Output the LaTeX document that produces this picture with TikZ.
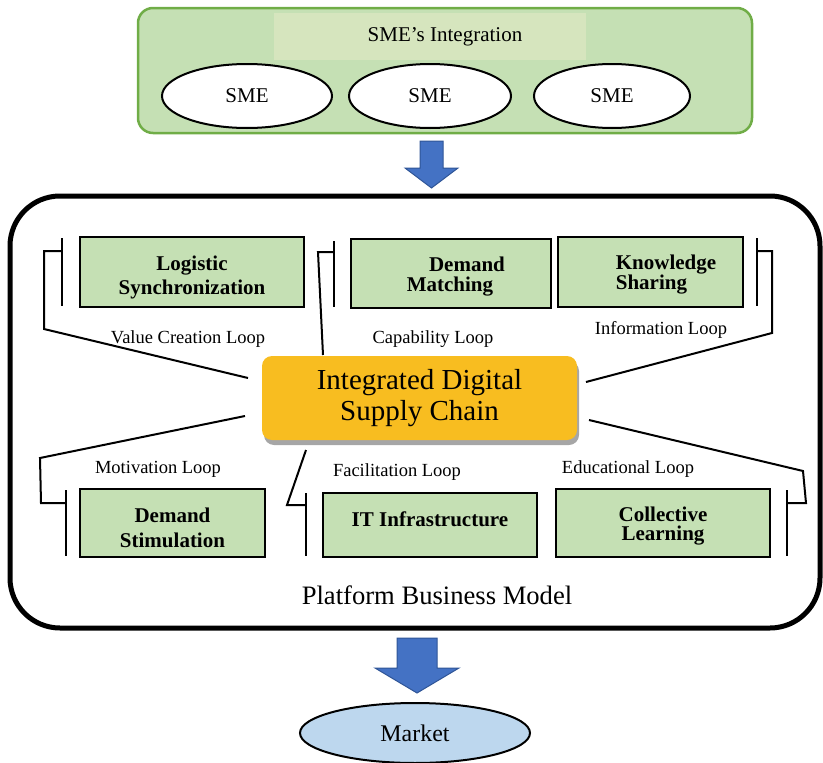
\documentclass[tikz,border=0pt]{standalone}
\usepackage{fontspec}
\setmainfont{Liberation Serif}
\usetikzlibrary{shapes.geometric, shadows, positioning, calc}

\definecolor{smegreen}{RGB}{197,224,180}
\definecolor{smeedge}{RGB}{112,173,71}
\definecolor{bandgreen}{RGB}{214,229,190}
\definecolor{hubyellow}{RGB}{248,189,32}
\definecolor{arrowblue}{RGB}{68,114,196}
\definecolor{arrowedge}{RGB}{47,85,151}
\definecolor{marketblue}{RGB}{189,215,238}

\tikzset{
  loopbox/.style={draw=black, line width=2.5pt, fill=smegreen, inner sep=0pt},
  boxtext/.style={align=center, inner sep=0pt, font=\fontsize{21}{22}\selectfont\bfseries},
  smenode/.style={ellipse, draw=black, line width=2pt, fill=white, inner sep=0pt,
    font=\fontsize{21}{24}\selectfont},
  looplabel/.style={inner sep=0pt, font=\fontsize{18.5}{20}\selectfont},
  link/.style={line width=2pt, line join=miter},
  blockarrow/.style={fill=arrowblue, draw=arrowedge, line width=1pt},
}

\begin{document}
\begin{tikzpicture}[x=1pt, y=-1pt]
  \useasboundingbox (0,0) rectangle (823,763);

  % SME integration block
  \node[draw=smeedge, line width=2.5pt, fill=smegreen, rounded corners=15pt,
    minimum width=614pt, minimum height=125pt] (smes) at (445,70.5) {};
  \node[fill=bandgreen, minimum width=312pt, minimum height=47pt] (band) at (430,36.5) {};
  \node[inner sep=0pt, font=\fontsize{21}{24}\selectfont] (smetitle) at (445,37) {SME's Integration};
  \node[smenode, minimum width=170pt, minimum height=64pt] (sme1) at (247,96) {SME};
  \node[smenode, minimum width=162pt, minimum height=64pt] (sme2) at (430,96) {SME};
  \node[smenode, minimum width=156pt, minimum height=64pt] (sme3) at (612,96) {SME};

  \draw[blockarrow] (420,141) -- (443,141) -- (443,168) -- (458,168) -- (431.5,188)
    -- (405,168) -- (420,168) -- cycle;

  % platform frame
  \node[draw=black, line width=5pt, rounded corners=50pt,
    minimum width=810pt, minimum height=432pt] (platform) at (415,412) {};
  \node[inner sep=0pt, font=\fontsize{26.6}{30}\selectfont] (pbm) at (437,595) {Platform Business Model};

  % hub
  \node[fill=hubyellow, rounded corners=10pt, minimum width=315pt, minimum height=84pt,
    align=center, inner sep=0pt, font=\fontsize{29}{31}\selectfont,
    drop shadow={shadow xshift=2pt, shadow yshift=-5pt, fill=black!35, opacity=1}]
    (hub) at (419.5,398) {Integrated Digital\\Supply Chain};

  % loop boxes
  \node[loopbox, minimum width=224pt, minimum height=70pt] (ls) at (192,272) {};
  \node[loopbox, minimum width=200pt, minimum height=69pt] (dm) at (451,273.5) {};
  \node[loopbox, minimum width=185pt, minimum height=70pt] (ks) at (650.5,272) {};
  \node[loopbox, minimum width=185pt, minimum height=68pt] (ds) at (172.5,523) {};
  \node[loopbox, minimum width=214pt, minimum height=64pt] (it) at (430,525) {};
  \node[loopbox, minimum width=214pt, minimum height=68pt] (cl) at (663,523) {};

  \node[boxtext, font=\fontsize{21}{24}\selectfont\bfseries] (lstext) at (192,277) {Logistic\\Synchronization};
  \node[boxtext, font=\fontsize{21}{20}\selectfont\bfseries] (dmtext) at (457,277)
    {\hspace*{20pt}Demand\\Matching\hspace*{14pt}};
  \node[boxtext, align=left, font=\fontsize{21}{20}\selectfont\bfseries] (kstext) at (666,275)
    {Knowledge\\Sharing};
  \node[boxtext, font=\fontsize{21}{25}\selectfont\bfseries] (dstext) at (172.5,528) {Demand\\Stimulation};
  \node[boxtext] (ittext) at (430,519) {IT Infrastructure};
  \node[boxtext, font=\fontsize{21}{19}\selectfont\bfseries] (cltext) at (663,526) {Collective\\Learning};

  % loop labels
  \node[looplabel] (vcl) at (188,339) {Value Creation Loop};
  \node[looplabel] (cpl) at (433,339) {Capability Loop};
  \node[looplabel] (ifl) at (661,330) {Information Loop};
  \node[looplabel] (mvl) at (158,469) {Motivation Loop};
  \node[looplabel] (fcl) at (397,472) {Facilitation Loop};
  \node[looplabel] (edl) at (628,469) {Educational Loop};

  % brackets and links to the hub
  \coordinate (lsa) at (62,238);   \coordinate (lsb) at (62,306);
  \coordinate (lst) at (62,251);   \coordinate (lsh) at (248,378);
  \draw[link] (lsa) -- (lsb);
  \draw[link] (lst) -- (44,251) -- (44,329) -- (lsh);

  \coordinate (dma) at (334,241);  \coordinate (dmb) at (334,307);
  \coordinate (dmt) at (334,252);  \coordinate (dmh) at (323,355);
  \draw[link] (dma) -- (dmb);
  \draw[link] (dmt) -- (318,252) -- (dmh);

  \coordinate (ksa) at (757,238);  \coordinate (ksb) at (757,306);
  \coordinate (kst) at (757,251);  \coordinate (ksh) at (586,382);
  \draw[link] (ksa) -- (ksb);
  \draw[link] (kst) -- (772,251) -- (772,333) -- (ksh);

  \coordinate (dsa) at (66,490);   \coordinate (dsb) at (66,556);
  \coordinate (dst) at (66,503);   \coordinate (dsh) at (245,416);
  \draw[link] (dsa) -- (dsb);
  \draw[link] (dst) -- (41,503) -- (40,458) -- (dsh);

  \coordinate (ita) at (306,493);  \coordinate (itb) at (306,556);
  \coordinate (itt) at (306,505);  \coordinate (ith) at (306,450);
  \draw[link] (ita) -- (itb);
  \draw[link] (itt) -- (287,505) -- (ith);

  \coordinate (cla) at (787,490);  \coordinate (clb) at (787,556);
  \coordinate (clt) at (787,503);  \coordinate (clh) at (589,420);
  \draw[link] (cla) -- (clb);
  \draw[link] (clt) -- (806,503) -- (803,471) -- (clh);

  % to market
  \draw[blockarrow] (397,638) -- (437,638) -- (437,668) -- (459,668) -- (417,693)
    -- (375,668) -- (397,668) -- cycle;
  \node[ellipse, draw=black, line width=2pt, fill=marketblue, inner sep=0pt,
    minimum width=230pt, minimum height=60pt, font=\fontsize{23.9}{26}\selectfont]
    (market) at (415,733) {Market};
\end{tikzpicture}
\end{document}
